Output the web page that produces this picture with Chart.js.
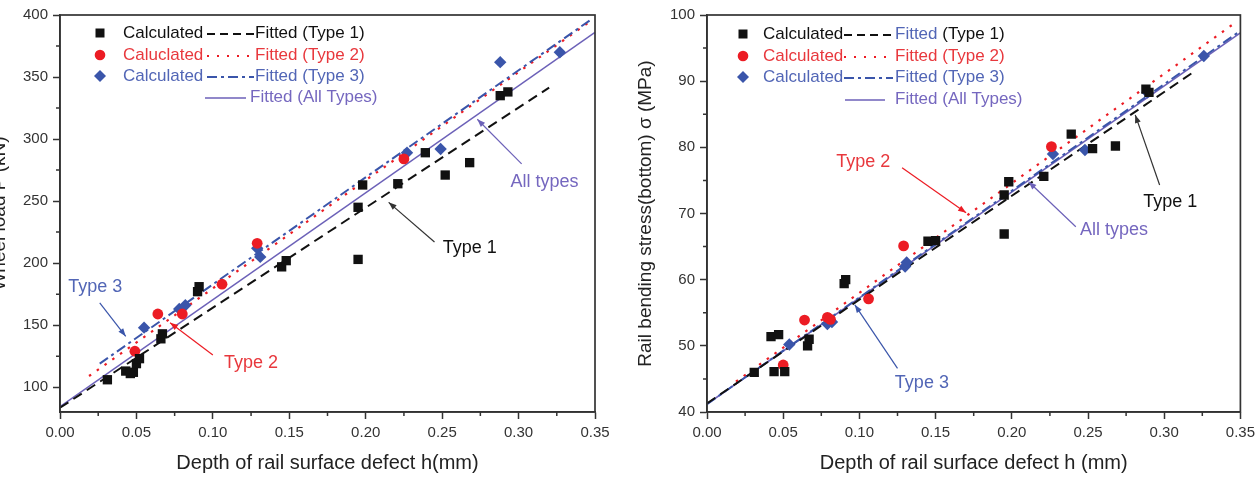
<!DOCTYPE html>
<html>
<head>
<meta charset="utf-8">
<script src="https://cdn.jsdelivr.net/npm/chart.js@4.4.1/dist/chart.umd.min.js"></script>
<style>
    html, body { margin: 0; padding: 0; background: #fff; overflow: hidden; }
    #wrap { position: relative; width: 1260px; height: 495px; }
    #leftChart { position: absolute; left: -12px; top: 0; }
    #rightChart { position: absolute; left: 630px; top: 0; }
</style>
</head>
<body>
<div id="wrap">
    <canvas id="leftChart" width="642" height="495"></canvas>
    <canvas id="rightChart" width="630" height="495"></canvas>
</div>
<script>
"use strict";

// ---- shared axis ticks ----
const xTicks = [0, 0.05, 0.10, 0.15, 0.20, 0.25, 0.30, 0.35];
const xMinorTicks = [0.025, 0.075, 0.125, 0.175, 0.225, 0.275, 0.325];

// ---- left chart: wheel load P (kN) ----
const loadTicks = [100, 150, 200, 250, 300, 350, 400];
const loadMinorTicks = [125, 175, 225, 275, 325, 375];

const loadType1X = [0.031, 0.043, 0.046, 0.048, 0.050, 0.052, 0.066, 0.067, 0.090, 0.091, 0.145, 0.148, 0.195, 0.195, 0.198, 0.221, 0.239, 0.252, 0.268, 0.288, 0.293];
const loadType1Y = [106, 113, 111, 112, 119, 123, 139, 143, 177, 181, 197, 202, 203, 245, 263, 264, 289, 271, 281, 335, 338];

const loadType2X = [0.049, 0.064, 0.080, 0.106, 0.129, 0.225];
const loadType2Y = [129, 159, 159, 183, 216, 284];

const loadType3X = [0.055, 0.078, 0.082, 0.129, 0.131, 0.227, 0.249, 0.288, 0.327];
const loadType3Y = [148, 163, 166, 212, 205, 289, 292, 362, 370];

const loadFit1X = [0, 0.32];
const loadFit1Y = [83.4, 341.5];
const loadFit2X = [0.019, 0.347];
const loadFit2Y = [109, 395];
const loadFit3X = [0.026, 0.347];
const loadFit3Y = [119, 396];
const loadFitAllX = [0, 0.35];
const loadFitAllY = [84.3, 386];

// ---- right chart: rail bending stress (MPa) ----
const stressTicks = [40, 50, 60, 70, 80, 90, 100];
const stressMinorTicks = [45, 55, 65, 75, 85, 95];

const stressType1X = [0.031, 0.042, 0.044, 0.047, 0.051, 0.066, 0.067, 0.090, 0.091, 0.145, 0.150, 0.195, 0.195, 0.198, 0.221, 0.239, 0.253, 0.268, 0.288, 0.290];
const stressType1Y = [46.0, 51.4, 46.1, 51.7, 46.1, 50.0, 51.0, 59.4, 60.0, 65.8, 65.9, 66.9, 72.8, 74.8, 75.6, 82.0, 79.8, 80.2, 88.8, 88.3];

const stressType2X = [0.050, 0.064, 0.079, 0.081, 0.106, 0.129, 0.226];
const stressType2Y = [47.1, 53.9, 54.3, 54.0, 57.1, 65.1, 80.1];

const stressType3X = [0.054, 0.079, 0.082, 0.130, 0.131, 0.227, 0.248, 0.289, 0.326];
const stressType3Y = [50.2, 53.3, 53.6, 62.0, 62.6, 79.0, 79.6, 88.3, 93.8];

const stressFit1X = [0, 0.32];
const stressFit1Y = [41.3, 91.5];
const stressFit2X = [0.019, 0.347];
const stressFit2Y = [44.6, 98.9];
const stressFit3X = [0, 0.35];
const stressFit3Y = [41.2, 97.6];
const stressFitAllX = [0, 0.35];
const stressFitAllY = [41.2, 97.3];

// ---- styles ----
const FONT = "'Liberation Sans', Arial, sans-serif";
const AXIS = "#333333";
const BLACK = "#111111";
const RED = "#ec1c24";
const BLUE = "#3a55aa";
const PURPLE = "#6c61b8";
const RED_TEXT = "#e8383d";
const BLUE_TEXT = "#5266b6";
const PURPLE_TEXT = "#7567bf";

function toPoints(xs, ys) {
    return xs.map((x, i) => ({x: x, y: ys[i]}));
}

function scatterSet(xs, ys, style, color, radius) {
    return {
        data: toPoints(xs, ys),
        pointStyle: style,
        pointRadius: radius,
        pointHoverRadius: radius,
        backgroundColor: color,
        borderColor: color,
        borderWidth: 0,
        showLine: false
    };
}

function lineSet(xs, ys, color, dash, width) {
    return {
        data: toPoints(xs, ys),
        showLine: true,
        pointRadius: 0,
        borderColor: color,
        borderWidth: width,
        borderDash: dash,
        fill: false
    };
}

function drawMarker(ctx, style, x, y, color) {
    ctx.fillStyle = color;
    ctx.beginPath();
    if (style === "rect") {
        ctx.rect(x - 4.5, y - 4.5, 9, 9);
    } else if (style === "circle") {
        ctx.arc(x, y, 5.3, 0, Math.PI * 2);
    } else {
        ctx.moveTo(x - 6, y);
        ctx.lineTo(x, y - 6);
        ctx.lineTo(x + 6, y);
        ctx.lineTo(x, y + 6);
        ctx.closePath();
    }
    ctx.fill();
}

function buildChart(canvasId, setup) {

    const ctx = document.getElementById(canvasId);

    const datasets = [
        scatterSet(setup.t1X, setup.t1Y, "rect", BLACK, 6.6),
        scatterSet(setup.t2X, setup.t2Y, "circle", RED, 5.4),
        scatterSet(setup.t3X, setup.t3Y, "rectRot", BLUE, 6.2),
        lineSet(setup.fit1X, setup.fit1Y, BLACK, [10, 6], 2),
        lineSet(setup.fit3X, setup.fit3Y, BLUE, [10, 4, 3, 4], 2),
        lineSet(setup.fit2X, setup.fit2Y, RED, [2.5, 7], 2.2),
        lineSet(setup.fitAllX, setup.fitAllY, PURPLE, [], 1.6)
    ];

    const framePlugin = {
        id: "frame",
        afterDraw(chart) {
            const c = chart.ctx;
            const a = chart.chartArea;
            const xs = chart.scales.x;
            const ys = chart.scales.y;
            c.save();
            c.strokeStyle = AXIS;
            c.lineWidth = 1.7;
            c.strokeRect(a.left, a.top, a.right - a.left, a.bottom - a.top);
            c.lineWidth = 1.5;
            c.beginPath();
            setup.xMinor.forEach((v) => {
                const px = xs.getPixelForValue(v);
                c.moveTo(px, a.bottom);
                c.lineTo(px, a.bottom + 4);
            });
            setup.yMinor.forEach((v) => {
                const py = ys.getPixelForValue(v);
                c.moveTo(a.left - 4, py);
                c.lineTo(a.left, py);
            });
            c.stroke();
            c.restore();
        }
    };

    const legendPlugin = {
        id: "legendBox",
        afterDatasetsDraw(chart) {
            const c = chart.ctx;
            const a = chart.chartArea;
            const L = setup.legend;
            c.save();
            c.font = "17px " + FONT;
            c.textBaseline = "middle";
            L.rows.forEach((row, i) => {
                const y = a.top + L.rowY[i];
                if (row.marker) {
                    drawMarker(c, row.marker, a.left + L.markerX, y, row.markerColor);
                    c.fillStyle = row.calcColor;
                    c.fillText(row.calc, a.left + L.calcX, y);
                }
                const lx0 = a.left + (row.marker ? L.lineX0 : L.allLineX0);
                const lx1 = a.left + (row.marker ? L.lineX1 : L.allLineX1);
                c.strokeStyle = row.lineColor;
                c.lineWidth = row.lineWidth;
                c.setLineDash(row.dash);
                c.beginPath();
                c.moveTo(lx0, y + 1);
                c.lineTo(lx1, y + 1);
                c.stroke();
                c.setLineDash([]);
                let tx = a.left + (row.marker ? L.fitX : L.allFitX);
                row.fit.forEach((part) => {
                    c.fillStyle = part[1];
                    c.fillText(part[0], tx, y);
                    tx += c.measureText(part[0]).width;
                });
            });
            c.restore();
        }
    };

    const notePlugin = {
        id: "notes",
        afterDatasetsDraw(chart) {
            const c = chart.ctx;
            const xs = chart.scales.x;
            const ys = chart.scales.y;
            c.save();
            c.font = "18px " + FONT;
            c.textAlign = "center";
            c.textBaseline = "middle";
            setup.notes.forEach((n) => {
                const fx = xs.getPixelForValue(n.from[0]);
                const fy = ys.getPixelForValue(n.from[1]);
                const tx = xs.getPixelForValue(n.to[0]);
                const ty = ys.getPixelForValue(n.to[1]);
                c.strokeStyle = n.color;
                c.fillStyle = n.color;
                c.lineWidth = 1.2;
                c.beginPath();
                c.moveTo(fx, fy);
                c.lineTo(tx, ty);
                c.stroke();
                const ang = Math.atan2(ty - fy, tx - fx);
                c.beginPath();
                c.moveTo(tx, ty);
                c.lineTo(tx - 8 * Math.cos(ang) + 3 * Math.sin(ang), ty - 8 * Math.sin(ang) - 3 * Math.cos(ang));
                c.lineTo(tx - 8 * Math.cos(ang) - 3 * Math.sin(ang), ty - 8 * Math.sin(ang) + 3 * Math.cos(ang));
                c.closePath();
                c.fill();
                c.fillStyle = n.textColor;
                c.fillText(n.text, xs.getPixelForValue(n.at[0]), ys.getPixelForValue(n.at[1]));
            });
            c.restore();
        }
    };

    return new Chart(ctx, {
        type: "scatter",
        data: {datasets: datasets},
        options: {
            responsive: false,
            animation: false,
            devicePixelRatio: 1,
            layout: {
                padding: {top: 15, right: setup.padRight, bottom: 20, left: 0}
            },
            plugins: {
                legend: {display: false},
                tooltip: {enabled: false}
            },
            scales: {
                x: {
                    type: "linear",
                    min: 0,
                    max: 0.35,
                    afterBuildTicks: (scale) => {
                        scale.ticks = xTicks.map((v) => ({value: v}));
                    },
                    afterFit: (scale) => {
                        scale.height = 63;
                    },
                    ticks: {
                        color: AXIS,
                        font: {family: FONT, size: 15},
                        padding: 5,
                        maxRotation: 0,
                        callback: (v) => Number(v).toFixed(2)
                    },
                    grid: {
                        drawOnChartArea: false,
                        drawTicks: true,
                        tickLength: 7,
                        tickColor: AXIS,
                        tickWidth: 1.5
                    },
                    border: {display: true, color: AXIS, width: 1.5},
                    title: {
                        display: true,
                        text: setup.xTitle,
                        color: "#222",
                        font: {family: FONT, size: 20},
                        padding: {top: 0, bottom: 0}
                    }
                },
                y: {
                    type: "linear",
                    min: setup.yMin,
                    max: setup.yMax,
                    afterBuildTicks: (scale) => {
                        scale.ticks = setup.yTicks.map((v) => ({value: v}));
                    },
                    afterFit: (scale) => {
                        scale.width = setup.yWidth;
                    },
                    ticks: {
                        color: AXIS,
                        font: {family: FONT, size: 15},
                        padding: 5,
                        callback: (v) => String(v)
                    },
                    grid: {
                        drawOnChartArea: false,
                        drawTicks: true,
                        tickLength: 7,
                        tickColor: AXIS,
                        tickWidth: 1.5
                    },
                    border: {display: true, color: AXIS, width: 1.5},
                    title: {
                        display: true,
                        text: setup.yTitle,
                        color: "#222",
                        font: {family: FONT, size: 19},
                        padding: {top: setup.yTitlePad, bottom: 0}
                    }
                }
            }
        },
        plugins: [framePlugin, legendPlugin, notePlugin]
    });
}

buildChart("leftChart", {
    t1X: loadType1X, t1Y: loadType1Y,
    t2X: loadType2X, t2Y: loadType2Y,
    t3X: loadType3X, t3Y: loadType3Y,
    fit1X: loadFit1X, fit1Y: loadFit1Y,
    fit2X: loadFit2X, fit2Y: loadFit2Y,
    fit3X: loadFit3X, fit3Y: loadFit3Y,
    fitAllX: loadFitAllX, fitAllY: loadFitAllY,
    yMin: 80, yMax: 400,
    yTicks: loadTicks, yMinor: loadMinorTicks, xMinor: xMinorTicks,
    yWidth: 72, yTitlePad: 0, padRight: 35,
    xTitle: "Depth of rail surface defect h(mm)",
    yTitle: "Wheel load P (kN)",
    legend: {
        rowY: [18, 40, 61, 82],
        markerX: 40, calcX: 63, lineX0: 147, lineX1: 194, fitX: 195,
        allLineX0: 145, allLineX1: 186, allFitX: 190,
        rows: [
            {marker: "rect", markerColor: BLACK, calc: "Calculated", calcColor: BLACK,
                lineColor: BLACK, lineWidth: 2, dash: [8, 5], fit: [["Fitted (Type 1)", BLACK]]},
            {marker: "circle", markerColor: RED, calc: "Caluclated", calcColor: RED_TEXT,
                lineColor: RED, lineWidth: 2, dash: [2, 8], fit: [["Fitted (Type 2)", RED_TEXT]]},
            {marker: "diamond", markerColor: BLUE, calc: "Calculated", calcColor: BLUE_TEXT,
                lineColor: BLUE, lineWidth: 2, dash: [10, 4, 3, 4], fit: [["Fitted (Type 3)", BLUE_TEXT]]},
            {marker: null, lineColor: PURPLE, lineWidth: 1.6, dash: [], fit: [["Fitted (All Types)", PURPLE_TEXT]]}
        ]
    },
    notes: [
        {text: "Type 1", color: "#333", textColor: BLACK, at: [0.268, 212], from: [0.245, 217], to: [0.215, 249]},
        {text: "All types", color: PURPLE, textColor: PURPLE_TEXT, at: [0.317, 265], from: [0.302, 280], to: [0.273, 316]},
        {text: "Type 3", color: BLUE, textColor: BLUE_TEXT, at: [0.023, 181], from: [0.026, 168], to: [0.043, 141]},
        {text: "Type 2", color: RED, textColor: RED_TEXT, at: [0.125, 119.5], from: [0.100, 126], to: [0.072, 152]}
    ]
});

buildChart("rightChart", {
    t1X: stressType1X, t1Y: stressType1Y,
    t2X: stressType2X, t2Y: stressType2Y,
    t3X: stressType3X, t3Y: stressType3Y,
    fit1X: stressFit1X, fit1Y: stressFit1Y,
    fit2X: stressFit2X, fit2Y: stressFit2Y,
    fit3X: stressFit3X, fit3Y: stressFit3Y,
    fitAllX: stressFitAllX, fitAllY: stressFitAllY,
    yMin: 40, yMax: 100,
    yTicks: stressTicks, yMinor: stressMinorTicks, xMinor: xMinorTicks,
    yWidth: 77, yTitlePad: 4, padRight: 17,
    xTitle: "Depth of rail surface defect h (mm)",
    yTitle: "Rail bending stress(bottom) \u03c3 (MPa)",
    legend: {
        rowY: [19, 41, 62, 84],
        markerX: 36, calcX: 56, lineX0: 137, lineX1: 186, fitX: 188,
        allLineX0: 138, allLineX1: 178, allFitX: 188,
        rows: [
            {marker: "rect", markerColor: BLACK, calc: "Calculated", calcColor: BLACK,
                lineColor: BLACK, lineWidth: 2, dash: [8, 5], fit: [["Fitted", BLUE_TEXT], [" (Type 1)", BLACK]]},
            {marker: "circle", markerColor: RED, calc: "Calculated", calcColor: RED_TEXT,
                lineColor: RED, lineWidth: 2, dash: [2, 8], fit: [["Fitted (Type 2)", RED_TEXT]]},
            {marker: "diamond", markerColor: BLUE, calc: "Calculated", calcColor: BLUE_TEXT,
                lineColor: BLUE, lineWidth: 2, dash: [10, 4, 3, 4], fit: [["Fitted (Type 3)", BLUE_TEXT]]},
            {marker: null, lineColor: PURPLE, lineWidth: 1.6, dash: [], fit: [["Fitted (All Types)", PURPLE_TEXT]]}
        ]
    },
    notes: [
        {text: "Type 2", color: RED, textColor: RED_TEXT, at: [0.1025, 77.8], from: [0.128, 76.9], to: [0.170, 70.1]},
        {text: "Type 1", color: "#333", textColor: BLACK, at: [0.304, 71.7], from: [0.297, 74.3], to: [0.281, 84.9]},
        {text: "All types", color: PURPLE, textColor: PURPLE_TEXT, at: [0.267, 67.5], from: [0.242, 68.0], to: [0.211, 74.8]},
        {text: "Type 3", color: BLUE, textColor: BLUE_TEXT, at: [0.141, 44.4], from: [0.125, 46.6], to: [0.097, 56.2]}
    ]
});
</script>
</body>
</html>
